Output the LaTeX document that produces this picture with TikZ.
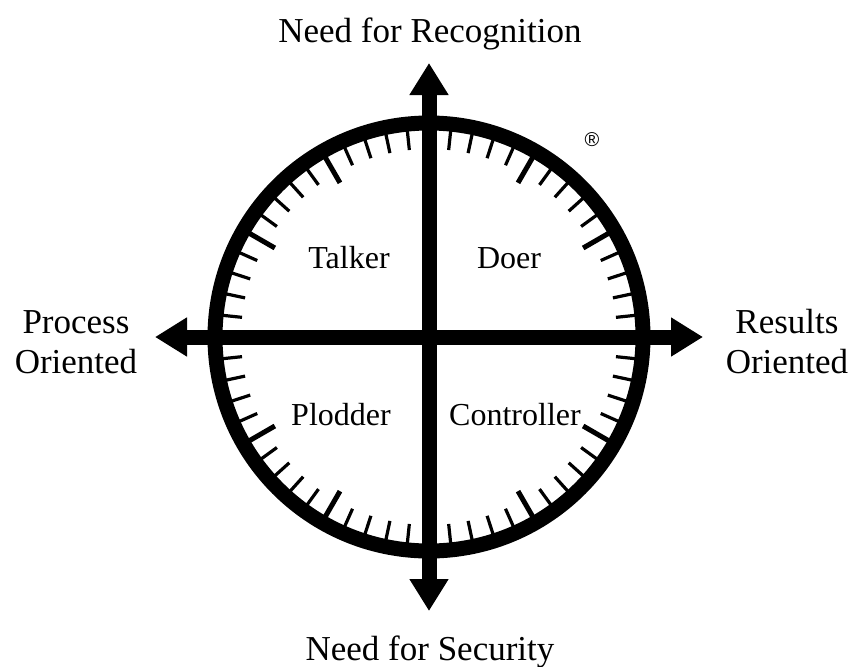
\documentclass[tikz,border=0pt]{standalone}
\usepackage{fontspec}
\setmainfont{Liberation Serif}
\newfontfamily\marksans{Liberation Sans}
\usetikzlibrary{arrows.meta}

\tikzset{
  axisbar/.style={line width=15pt, {Triangle[length=32pt,width=37pt]}-{Triangle[length=32pt,width=37pt]}},
  rim/.style={line width=15pt},
  shorttick/.style={line width=3.2pt},
  longtick/.style={line width=5pt},
  outerlabel/.style={font=\fontsize{35}{40}\selectfont, inner sep=0pt, anchor=base, align=center},
  quadlabel/.style={font=\fontsize{32}{38}\selectfont, inner sep=0pt, anchor=base},
}

\begin{document}
\begin{tikzpicture}[x=1pt, y=-1pt]
  \useasboundingbox (0,0) rectangle (852,667);

  % centre of the dial and the four arrow tips
  \coordinate (c) at (429,337);
  \coordinate (tipN) at (429,63);
  \coordinate (tipS) at (429,611);
  \coordinate (tipW) at (155,337);
  \coordinate (tipE) at (703,337);

  % minute-style ticks, every fifth one longer
  \foreach \k in {1,...,59}{
    \pgfmathtruncatemacro\q{mod(\k,15)}
    \pgfmathtruncatemacro\f{mod(\k,5)}
    \ifnum\q=0\relax\else
      \ifnum\f=0\relax
        \draw[longtick, shift={(c)}] (6*\k:210) -- (6*\k:178);
      \else
        \draw[shorttick, shift={(c)}] (6*\k:210) -- (6*\k:188);
      \fi
    \fi
  }

  % the rim
  \draw[rim] (c) circle[radius=214pt];

  % the two axes
  \draw[axisbar] (tipW) -- (tipE);
  \draw[axisbar] (tipS) -- (tipN);

  % axis labels (two-line labels sit on the baseline of their last line)
  \node[outerlabel] (recog) at (430,42) {Need for Recognition};
  \node[outerlabel] (secur) at (430,660) {Need for Security};
  \node[outerlabel] (proc) at (76,373) {Process\\Oriented};
  \node[outerlabel] (res) at (787,373) {Results\\Oriented};

  % quadrant labels
  \node[quadlabel] (talker) at (349,268) {Talker};
  \node[quadlabel] (doer) at (509,268) {Doer};
  \node[quadlabel] (plodder) at (341,425) {Plodder};
  \node[quadlabel] (controller) at (515,425) {Controller};

  % registered mark
  \node[font=\marksans\fontsize{20}{20}\selectfont, inner sep=0pt] (reg) at (592,140) {®};
\end{tikzpicture}
\end{document}
